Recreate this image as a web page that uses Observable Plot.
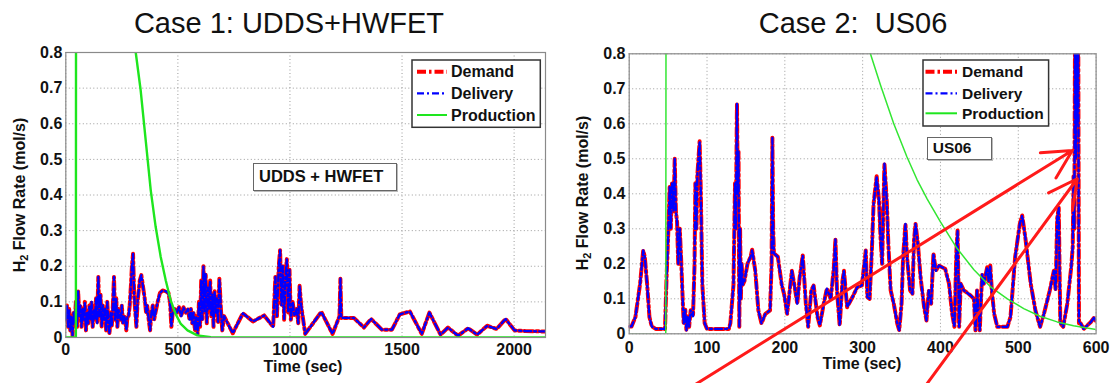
<!DOCTYPE html>
<html>
<head>
<meta charset="utf-8">
<script src="https://cdn.jsdelivr.net/npm/d3@7"></script>
<script src="https://cdn.jsdelivr.net/npm/@observablehq/plot@0.6"></script>
<style>
  body { margin: 0; background: #fff; font-family: "Liberation Sans", Arial, sans-serif; }
  #wrap { position: relative; width: 1111px; height: 383px; overflow: hidden; background: #fff; }
  .title { position: absolute; font-size: 29px; line-height: 29px; white-space: pre; text-align: center; width: 420px; color: #111; }
  .chart { position: absolute; top: 40px; }
  .chart svg { overflow: visible; }
  .ylab { position: absolute; font-weight: bold; font-size: 16px; line-height: 16px; white-space: nowrap; transform: translate(-50%, -50%) rotate(-90deg); color: #111; }
  .ylab sub { font-size: 11px; vertical-align: -3px; line-height: 0; }
  .xlab { position: absolute; font-weight: bold; font-size: 16px; line-height: 16px; white-space: nowrap; transform: translate(-50%, -50%); color: #111; }
  .note { position: absolute; box-sizing: border-box; border: 1.5px solid #666; background: #fff; font-weight: bold; color: #111; white-space: nowrap; box-shadow: 1px 1px 0 #bbb; }
  .legend { position: absolute; }
</style>
</head>
<body>
<div id="wrap"></div>
<script>
// ---------------- data ----------------
const yTicks = [0, 0.1, 0.2, 0.3, 0.4, 0.5, 0.6, 0.7, 0.8];
const yTickLabels = ["0", "0.1", "0.2", "0.3", "0.4", "0.5", "0.6", "0.7", "0.8"];
const case1XTicks = [0, 500, 1000, 1500, 2000];
const case2XTicks = [0, 100, 200, 300, 400, 500, 600];
const seriesNames = ["Demand", "Delivery", "Production"];

// Case 1: [time (s), H2 flow (mol/s)]
const case1Demand = [[0,0.05],[5,0.09],[10,0.03],[15,0.08],[20,0.02],[25,0.06],[30,0.005],[35,0.07],[40,0.04],[45,0.10],[50,0.03],[55,0.13],[60,0.06],[65,0.09],[70,0.03],[75,0.08],[80,0.05],[85,0.10],[90,0.02],[95,0.07],[100,0.04],[105,0.09],[110,0.05],[115,0.10],[120,0.03],[125,0.08],[130,0.05],[135,0.11],[140,0.04],[145,0.17],[150,0.06],[155,0.12],[160,0.03],[165,0.09],[170,0.05],[175,0.08],[180,0.02],[185,0.10],[190,0.04],[195,0.01],[200,0.07],[205,0.03],[210,0.09],[215,0.17],[220,0.05],[225,0.11],[230,0.03],[235,0.08],[240,0.06],[245,0.05],[250,0.09],[255,0.04],[260,0.06],[265,0.05],[270,0.02],[275,0.06],[280,0.06],[285,0.09],[290,0.14],[295,0.20],[300,0.235],[305,0.12],[310,0.07],[315,0.03],[320,0.10],[325,0.13],[330,0.16],[337,0.175],[345,0.14],[352,0.11],[358,0.07],[363,0.09],[370,0.05],[376,0.02],[382,0.07],[388,0.09],[394,0.05],[400,0.07],[410,0.10],[420,0.125],[432,0.132],[445,0.13],[458,0.125],[465,0.10],[471,0.03],[477,0.07],[485,0.08],[495,0.07],[505,0.085],[515,0.06],[525,0.085],[535,0.07],[545,0.08],[552,0.05],[558,0.08],[564,0.04],[570,0.07],[576,0.02],[582,0.06],[588,0.01],[594,0.10],[599,0.03],[604,0.16],[609,0.05],[614,0.20],[619,0.07],[624,0.18],[629,0.04],[634,0.14],[639,0.08],[644,0.16],[649,0.06],[654,0.12],[659,0.03],[664,0.13],[669,0.07],[674,0.11],[679,0.04],[685,0.165],[692,0.08],[698,0.02],[706,0.06],[718,0.045],[745,0.012],[790,0.068],[835,0.045],[885,0.062],[925,0.03],[935,0.17],[942,0.06],[950,0.20],[956,0.245],[962,0.09],[968,0.2],[974,0.05],[980,0.17],[986,0.22],[992,0.07],[998,0.19],[1004,0.05],[1012,0.10],[1020,0.06],[1030,0.08],[1037,0.04],[1043,0.145],[1050,0.09],[1068,0.01],[1140,0.072],[1190,0.01],[1221,0.06],[1225,0.165],[1229,0.055],[1285,0.055],[1330,0.028],[1362,0.052],[1410,0.022],[1455,0.022],[1490,0.065],[1535,0.073],[1588,0.01],[1622,0.07],[1672,0.008],[1705,0.028],[1750,0.005],[1795,0.026],[1835,0.008],[1880,0.033],[1922,0.024],[1962,0.052],[2002,0.02],[2050,0.018],[2140,0.017]];
const case1Delivery = case1Demand.map(d => [d[0], d[1]]); // delivery tracks demand
const case1Production = [[0,0],[45,0],[46,1.5],[305,0.834],[312,0.8],[334,0.694],[356.5,0.553],[379,0.413],[401,0.31],[423.5,0.226],[446,0.16],[468,0.104],[490,0.066],[513,0.038],[543,0.02],[587,0.006],[647,0.001],[700,0],[2140,0]];

// Case 2
const case2Demand = [[0,0.021],[3,0.021],[8,0.048],[14,0.143],[18,0.238],[20,0.22],[23,0.143],[26,0.048],[29,0.021],[34,0.014],[46,0.014],[48,0.16],[50,0.276],[52,0.42],[53.5,0.3],[55,0.43],[57,0.35],[58.5,0.5],[60,0.35],[61.5,0.32],[63,0.2],[65,0.3],[67,0.2],[68,0.14],[70,0.03],[72,0.07],[73.5,0.01],[75,0.05],[77,0.02],[79,0.067],[82,0.05],[84,0.2],[85,0.43],[86.5,0.3],[87.5,0.45],[89,0.5],[90.5,0.55],[92,0.41],[94,0.14],[97,0.03],[100,0.014],[128,0.014],[130,0.03],[134,0.14],[136,0.43],[137,0.3],[138.5,0.657],[139.5,0.4],[140.5,0.52],[141.5,0.02],[142.5,0.3],[143.5,0.1],[144.5,0.2],[146,0.14],[148,0.15],[152,0.2],[156,0.22],[158,0.24],[162,0.18],[166,0.067],[170,0.03],[175,0.057],[181,0.067],[183,0.2],[184,0.56],[185,0.3],[186,0.23],[191,0.22],[196,0.14],[199,0.114],[203,0.057],[209,0.18],[212,0.143],[216,0.086],[219,0.16],[223,0.224],[227,0.086],[230,0.02],[234,0.124],[237,0.138],[242,0.048],[245,0.024],[250,0.086],[254,0.129],[259,0.1],[263,0.19],[265,0.27],[267,0.124],[270.5,0.024],[274,0.15],[276,0.18],[280,0.076],[287,0.105],[293,0.133],[299,0.138],[304,0.238],[306,0.105],[309,0.1],[312,0.248],[314,0.37],[318,0.45],[321,0.38],[323,0.276],[325,0.2],[328,0.486],[331,0.38],[333,0.257],[336,0.124],[340,0.086],[344.5,0.029],[347,0.01],[350,0.086],[352,0.22],[355,0.314],[357,0.22],[361,0.124],[364,0.114],[366,0.267],[368,0.314],[371,0.257],[374.5,0.16],[379,0.076],[382,0.038],[385,0.124],[388,0.086],[391,0.23],[394,0.18],[398,0.195],[402,0.19],[406,0.186],[411,0.143],[415,0.057],[418,0.02],[420.5,0.238],[422,0.295],[424,0.02],[426,0.143],[430,0.124],[438.5,0.11],[443,0.1],[445,0.01],[447,0.124],[450.5,0.01],[453.5,0.17],[455.7,0.143],[460,0.19],[462,0.15],[464,0.195],[466,0.124],[469,0.057],[473,0.02],[486,0.02],[490,0.048],[496,0.22],[502,0.314],[505,0.338],[509,0.276],[516,0.143],[522,0.067],[528,0.02],[533,0.057],[540.5,0.124],[545.7,0.18],[548,0.124],[550,0.33],[552,0.36],[554,0.03],[557.7,0.02],[563,0.086],[568,0.19],[570,0.25],[571,0.45],[572,0.3],[573,0.9],[574,0.5],[575,0.95],[576,0.6],[577,0.9],[578,0.03],[580,0.03],[584,0.014],[593,0.033],[598,0.048],[600,0.035]];
const case2Delivery = case2Demand.map(d => [d[0], d[1]]);
const case2Production = [[0,0],[47,0],[47.5,1.5],[300,0.873],[310,0.8],[323,0.71],[340,0.6],[357,0.505],[370,0.44],[383,0.385],[400,0.32],[421,0.245],[443,0.183],[464,0.135],[486,0.1],[507,0.072],[528,0.05],[550,0.034],[571,0.023],[600,0.012]];

// red annotation arrows (data coordinates of case 2)
const case2Arrows = [
  {x1: 74, y1: -0.16, x2: 569.4, y2: 0.524},
  {x1: 377, y1: -0.16, x2: 575.8, y2: 0.443}
];

// ---------------- styles ----------------
const FONT = '"Liberation Sans", Arial, sans-serif';
const demandStyle = {stroke: "#ff0000", strokeWidth: 4, strokeDasharray: "9,3,2.5,3"};
const deliveryStyle = {stroke: "#0000ff", strokeWidth: 2.3, strokeDasharray: "7,3,2,3"};
const fmtY = d => { const i = yTicks.findIndex(t => Math.abs(t - d) < 1e-9); return i >= 0 ? yTickLabels[i] : ""; };

function chart(cfg) {
  return Plot.plot({
    width: cfg.width, height: 343,
    marginLeft: cfg.ml, marginRight: cfg.mr, marginTop: cfg.mt, marginBottom: cfg.mb,
    style: {fontFamily: FONT, fontSize: "16px", fontWeight: "bold", color: "#111", background: "transparent", overflow: "visible"},
    x: {domain: cfg.xDomain, ticks: cfg.xTicks, tickFormat: d => String(d), tickSize: 0, tickPadding: cfg.xPad, label: null},
    y: {domain: [0, 0.8], ticks: yTicks, tickFormat: fmtY, tickSize: 0, tickPadding: cfg.yPad, label: null},
    marks: [
      Plot.ruleX(cfg.xTicks, {stroke: "#9a9a9a", strokeWidth: 1, strokeDasharray: "1,2.5"}),
      Plot.ruleY(yTicks, {stroke: "#9a9a9a", strokeWidth: 1, strokeDasharray: "1,2.5"}),
      Plot.line(cfg.demand, {x: d => d[0], y: d => d[1], ...demandStyle, clip: true}),
      Plot.line(cfg.delivery, {x: d => d[0], y: d => d[1], ...deliveryStyle, clip: true}),
      Plot.line(cfg.production, {x: d => d[0], y: d => d[1], stroke: cfg.prodColor, strokeWidth: cfg.prodWidth, clip: true}),
      Plot.frame({stroke: "#8a8a8a", strokeWidth: 1.2}),
      ...(cfg.arrows ? [Plot.arrow(cfg.arrows, {x1: "x1", y1: "y1", x2: "x2", y2: "y2", stroke: "#ff1a1a", strokeWidth: 3, headLength: 16, headAngle: 55})] : [])
    ]
  });
}

const wrap = document.getElementById("wrap");
function add(html) { const t = document.createElement("template"); t.innerHTML = html.trim(); const el = t.content.firstChild; wrap.appendChild(el); return el; }

// charts
const c1 = chart({width: 560, ml: 65.3, mr: 15, mt: 12, mb: 46, xDomain: [0, 2140], xTicks: case1XTicks, xPad: 6, yPad: 3.5,
  demand: case1Demand, delivery: case1Delivery, production: case1Production, prodColor: "#1ee61e", prodWidth: 2.4});
const c2 = chart({width: 551, ml: 68.7, mr: 15.4, mt: 13.3, mb: 49.7, xDomain: [0, 600], xTicks: case2XTicks, xPad: 7.5, yPad: 3.7,
  demand: case2Demand, delivery: case2Delivery, production: case2Production, prodColor: "#33e633", prodWidth: 1.5, arrows: case2Arrows});
const d1 = add('<div class="chart" style="left:0px"></div>'); d1.appendChild(c1);
const d2 = add('<div class="chart" style="left:560px"></div>'); d2.appendChild(c2);

// titles
add('<div class="title" style="left:79px;top:9px">Case 1: UDDS+HWFET</div>');
add('<div class="title" style="left:643px;top:9px">Case 2:  US06</div>');

// axis labels
add('<div class="ylab" style="left:20px;top:195px">H<sub>2</sub> Flow Rate (mol/s)</div>');
add('<div class="ylab" style="left:583px;top:193px">H<sub>2</sub> Flow Rate (mol/s)</div>');
add('<div class="xlab" style="left:303px;top:367px">Time (sec)</div>');
add('<div class="xlab" style="left:862px;top:364px">Time (sec)</div>');

// legends
function legend(x, y, w, h, sx1, sx2, tx, rowsY, fs) {
  const styles = [demandStyle, deliveryStyle, {stroke: "#1ee61e", strokeWidth: 2, strokeDasharray: "none"}];
  let s = `<svg class="legend" style="left:${x}px;top:${y}px" width="${w+2}" height="${h+2}" xmlns="http://www.w3.org/2000/svg">`;
  s += `<rect x="1" y="1" width="${w-1}" height="${h-1}" fill="#fff" stroke="#333" stroke-width="1.5"/>`;
  seriesNames.forEach((n, i) => {
    const st = styles[i];
    s += `<line x1="${sx1}" x2="${sx2}" y1="${rowsY[i]}" y2="${rowsY[i]}" stroke="${st.stroke}" stroke-width="${st.strokeWidth}" stroke-dasharray="${st.strokeDasharray}"/>`;
    s += `<text x="${tx}" y="${rowsY[i] + fs * 0.36}" font-family='${FONT}' font-weight="bold" font-size="${fs}" fill="#111">${n}</text>`;
  });
  return add(s + "</svg>");
}
legend(410.7, 59, 129.3, 68.3, 6, 36, 40, [12.7, 34.3, 56], 16);
legend(921.7, 59, 126.6, 67, 3.5, 35, 40, [12.7, 34.3, 54.3], 15.5);

// annotation boxes
add('<div class="note" style="left:253px;top:163px;width:144px;height:28px;font-size:16.5px;line-height:25px;padding-left:5px">UDDS + HWFET</div>');
add('<div class="note" style="left:926.7px;top:136.7px;width:65.6px;height:23.3px;font-size:15.5px;line-height:20.5px;padding-left:5px">US06</div>');
</script>
</body>
</html>
